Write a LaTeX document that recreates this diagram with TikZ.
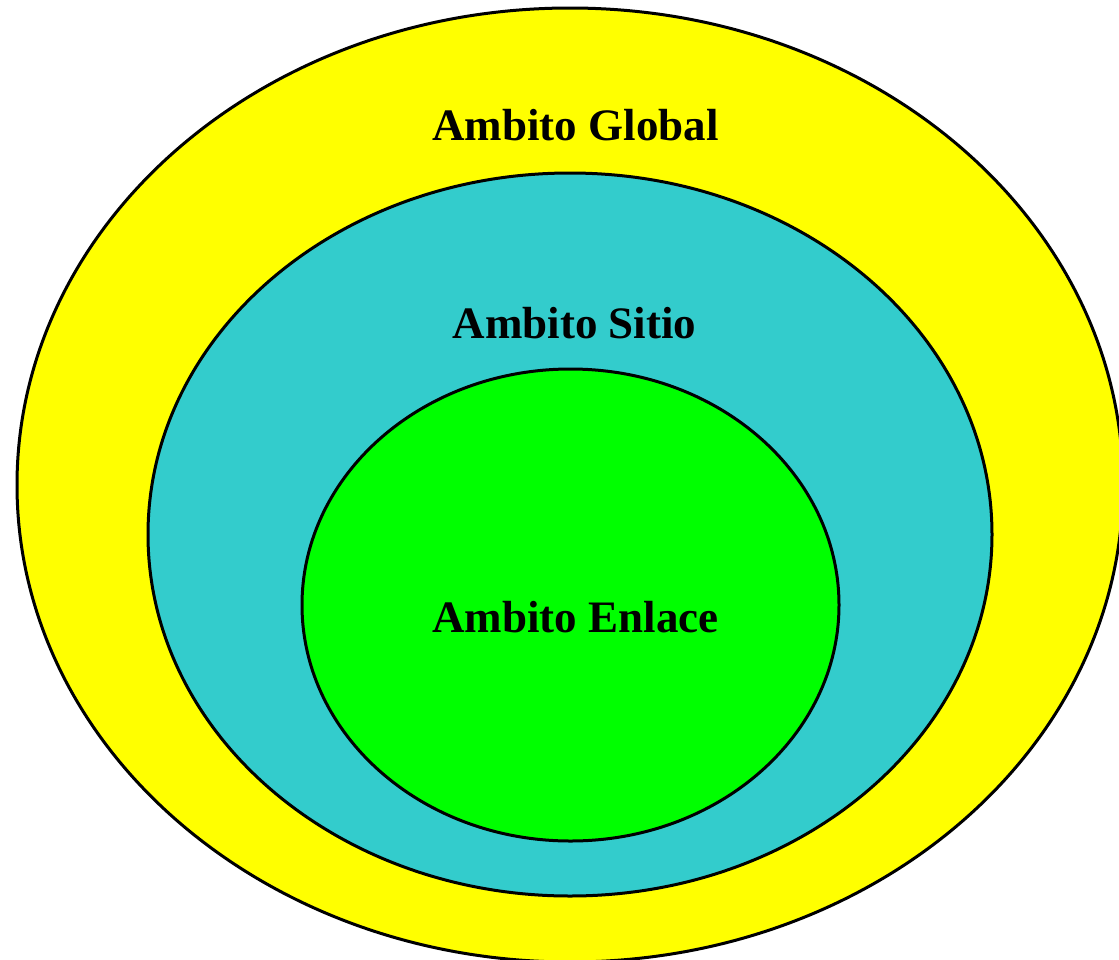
\documentclass[tikz,border=0pt]{standalone}
\usepackage{fontspec}
\setmainfont{Liberation Serif}
\usepackage{xcolor}
\usepackage{tikz}
\usetikzlibrary{shapes.geometric}
\definecolor{globalyellow}{HTML}{FFFF00}
\definecolor{sitioteal}{HTML}{33CCCC}
\definecolor{enlacegreen}{HTML}{00FF00}
\tikzstyle{scopering} = [ellipse, draw=black, line width=1.5pt, inner sep=0pt]
\tikzstyle{scopelabel} = [anchor=base, inner sep=0pt, font=\fontsize{22.5}{27}\selectfont\bfseries]
\begin{document}
\begin{tikzpicture}[x=0.5pt, y=-0.5pt]

  % === FRAME ===
  \useasboundingbox (0,0) rectangle (1119,959);
  \clip (0,0) rectangle (1119,959);

  % === NESTED SCOPES ===
  \node (global) [scopering, fill=globalyellow, minimum width=553pt, minimum height=477pt] at (570,485) {};
  \node (sitio) [scopering, fill=sitioteal, minimum width=422pt, minimum height=361.5pt] at (570,534.5) {};
  \node (enlace) [scopering, fill=enlacegreen, minimum width=268.5pt, minimum height=236pt] at (570.5,605) {};

  % === LABELS ===
  \node (globaltxt) [scopelabel] at (575.5,140) {Ambito Global};
  \node (sitiotxt) [scopelabel] at (574.5,338) {Ambito Sitio};
  \node (enlacetxt) [scopelabel] at (575.5,632) {Ambito Enlace};

\end{tikzpicture}
\end{document}
